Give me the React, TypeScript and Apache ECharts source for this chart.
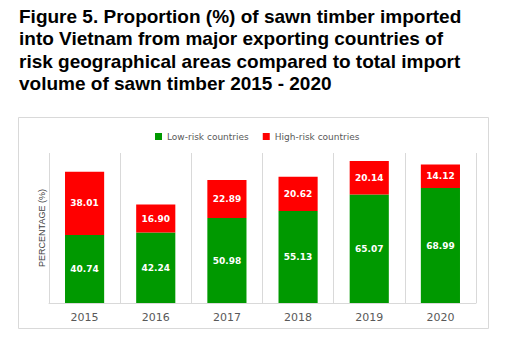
import React, { useEffect, useRef } from "react";
import * as echarts from "echarts";

const years = ["2015", "2016", "2017", "2018", "2019", "2020"];
const lowRisk = [40.74, 42.24, 50.98, 55.13, 65.07, 68.99];
const highRisk = [38.01, 16.9, 22.89, 20.62, 20.14, 14.12];
const titleLines = [
  "Figure 5. Proportion (%) of sawn timber imported",
  "into Vietnam from major exporting countries of",
  "risk geographical areas compared to total import",
  "volume of sawn timber 2015 - 2020",
];

export default function App() {
  const ref = useRef<HTMLDivElement>(null);
  useEffect(() => {
    if (!ref.current) return;
    const chart = echarts.init(ref.current, null, { renderer: "svg" });
    const label = {
      show: true,
      position: "inside",
      color: "#ffffff",
      fontSize: 9,
      fontWeight: "bold",
      fontFamily: "'DejaVu Sans', sans-serif",
      formatter: (p: any) => Number(p.value).toFixed(2),
    };
    chart.setOption({
      animation: false,
      backgroundColor: "#ffffff",
      title: {
        text: titleLines.join("\n"),
        left: 14,
        top: 0,
        textStyle: {
          fontFamily: "'Liberation Sans', Arial, sans-serif",
          fontWeight: "bold",
          fontSize: 19,
          lineHeight: 22.5,
          color: "#000000",
        },
      },
      graphic: [
        {
          type: "rect",
          z: -10,
          shape: { x: 18.5, y: 117.5, width: 470, height: 211 },
          style: { fill: "#ffffff", stroke: "#d9d9d9", lineWidth: 1 },
        },
      ],
      legend: {
        top: 127,
        left: 150,
        itemWidth: 7,
        itemHeight: 7,
        itemGap: 14,
        icon: "rect",
        textStyle: {
          color: "#595959",
          fontSize: 9,
          fontFamily: "'DejaVu Sans', sans-serif",
        },
        data: ["Low-risk countries", "High-risk countries"],
      },
      grid: { left: 49, right: 41, top: 153, bottom: 41, containLabel: false },
      xAxis: {
        type: "category",
        data: years,
        axisLine: { show: true, lineStyle: { color: "#d9d9d9" } },
        axisTick: { show: false },
        splitLine: { show: true, lineStyle: { color: "#d9d9d9", width: 1 } },
        axisLabel: {
          color: "#595959",
          fontSize: 11,
          margin: 9,
          fontFamily: "'DejaVu Sans', sans-serif",
        },
      },
      yAxis: {
        type: "value",
        min: 0,
        max: 90,
        axisLine: { show: false },
        axisTick: { show: false },
        axisLabel: { show: false },
        splitLine: { show: false },
        name: "PERCENTAGE (%)",
        nameLocation: "middle",
        nameGap: 3,
        nameTextStyle: {
          color: "#404040",
          fontSize: 9,
          fontFamily: "'Liberation Sans Narrow', 'Liberation Sans', sans-serif",
        },
      },
      series: [
        {
          name: "Low-risk countries",
          type: "bar",
          stack: "total",
          barWidth: "55%",
          itemStyle: { color: "#009900" },
          label,
          data: lowRisk,
        },
        {
          name: "High-risk countries",
          type: "bar",
          stack: "total",
          barWidth: "55%",
          itemStyle: { color: "#ff0000" },
          label,
          data: highRisk,
        },
      ],
    });
    return () => chart.dispose();
  }, []);
  return (
    <div
      ref={ref}
      style={{ position: "fixed", left: 0, top: 0, width: 517, height: 344 }}
    />
  );
}
